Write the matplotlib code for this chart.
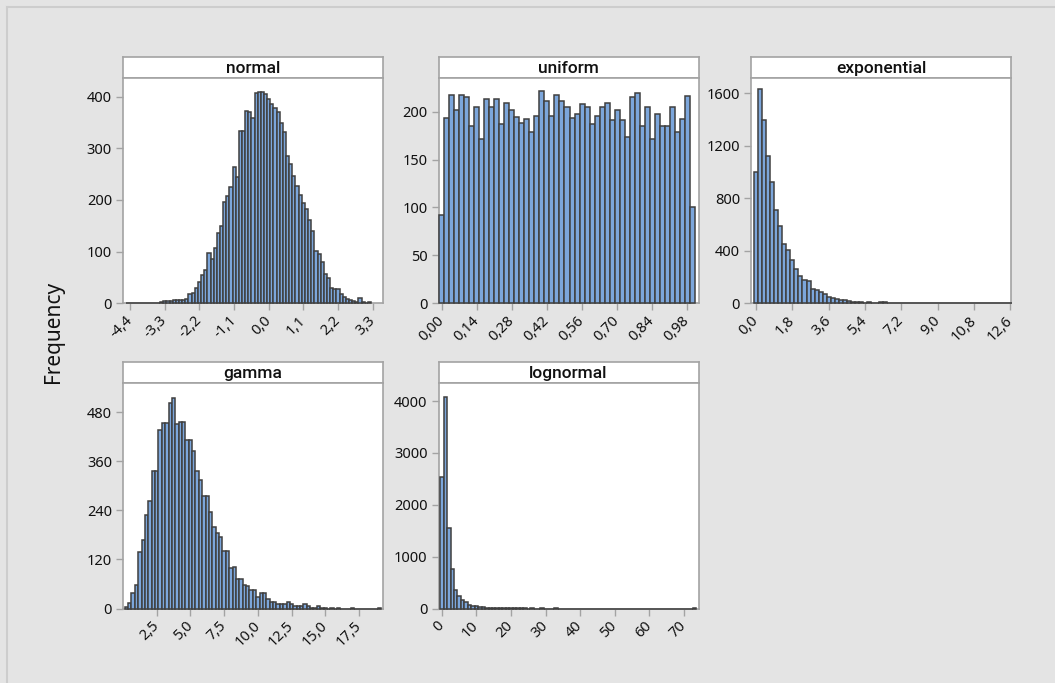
import matplotlib
matplotlib.use("Agg")
import matplotlib.pyplot as plt
from matplotlib.lines import Line2D
import numpy as np

plt.rcParams['font.family'] = ['Noto Sans', 'DejaVu Sans']

W, H = 1055, 683

# ---- data (bin start, bin width, counts per bin) ----
normal_start, normal_width = -4.5, 0.1
normal_counts = [1, 0, 0, 0, 0, 0, 0, 0, 0, 0, 0,
                 3, 4, 5, 5, 6, 7, 7, 7, 8, 18, 20, 30, 42, 54, 65, 97, 85,
                 107, 137, 149, 197, 208, 225, 263, 244, 333, 333, 373, 370,
                 359, 408, 410, 410, 405, 395, 386, 379, 370, 350, 331, 286,
                 270, 247, 227, 210, 195, 182, 161, 140, 101, 95, 79, 56, 48,
                 30, 27, 27, 17, 12, 8, 6, 4, 3, 11, 3, 1, 3]

uniform_start, uniform_width = 0.0, 0.02
uniform_counts = [92, 194, 218, 202, 218, 215, 185, 205, 172, 213, 205, 213,
                  187, 209, 202, 195, 188, 192, 179, 196, 222, 211, 196, 218,
                  211, 205, 194, 198, 208, 205, 187, 196, 205, 209, 191, 202,
                  191, 174, 215, 220, 185, 205, 172, 198, 185, 185, 205, 179,
                  192, 216, 101]

expo_start, expo_width = 0.0, 0.2
expo_counts = [1000, 1632, 1401, 1125, 921, 711, 588, 450, 409, 327, 261, 210,
               179, 169, 110, 102, 84, 72, 51, 38, 31, 28, 26, 15, 10, 6, 12,
               4, 12, 3, 2, 10, 9, 1, 0, 0, 1, 0, 0, 0, 1, 0, 0, 0, 0, 0, 0,
               0, 0, 0, 0, 0, 0, 0, 0, 0, 0, 0, 0, 0, 0, 0, 0, 1]

gamma_start, gamma_width = 0.25, 0.25
gamma_counts = [4, 14, 39, 57, 137, 167, 228, 262, 335, 335, 437, 453, 453,
                502, 514, 452, 456, 456, 411, 411, 384, 335, 313, 275, 275,
                236, 198, 185, 175, 141, 141, 98, 102, 72, 72, 57, 55, 46, 46,
                28, 37, 37, 22, 16, 16, 12, 12, 12, 15, 10, 7, 7, 7, 10, 6, 2,
                2, 5, 2, 1, 0, 1, 0, 1, 0, 0, 0, 1, 0, 0, 0, 0, 0, 0, 0, 1]

lognormal_start, lognormal_width = 0.0, 1.0
lognormal_counts = [2530, 4070, 1560, 770, 366, 238, 160, 116, 64, 51, 45, 38,
                    22, 18, 12, 9, 8, 5, 4, 3, 3, 2, 2, 1, 1, 0, 1, 0, 0, 1,
                    0, 0, 0, 1, 0, 0, 0, 0, 0, 0, 0, 0, 0, 0, 0, 0, 0, 0, 0,
                    0, 0, 0, 0, 0, 0, 0, 0, 0, 0, 0, 0, 0, 0, 0, 0, 0, 0, 0,
                    0, 0, 0, 0, 0, 1]

panel_titles = ["normal", "uniform", "exponential", "gamma", "lognormal"]

normal_xticks = [-4.4, -3.3, -2.2, -1.1, 0.0, 1.1, 2.2, 3.3]
normal_xlabels = ["-4,4", "-3,3", "-2,2", "-1,1", "0,0", "1,1", "2,2", "3,3"]
uniform_xticks = [0.0, 0.14, 0.28, 0.42, 0.56, 0.70, 0.84, 0.98]
uniform_xlabels = ["0,00", "0,14", "0,28", "0,42", "0,56", "0,70", "0,84", "0,98"]
expo_xticks = [0.0, 1.8, 3.6, 5.4, 7.2, 9.0, 10.8, 12.6]
expo_xlabels = ["0,0", "1,8", "3,6", "5,4", "7,2", "9,0", "10,8", "12,6"]
gamma_xticks = [2.5, 5.0, 7.5, 10.0, 12.5, 15.0, 17.5]
gamma_xlabels = ["2,5", "5,0", "7,5", "10,0", "12,5", "15,0", "17,5"]
lognormal_xticks = [0, 10, 20, 30, 40, 50, 60, 70]
lognormal_xlabels = ["0", "10", "20", "30", "40", "50", "60", "70"]

normal_yticks = [0, 100, 200, 300, 400]
uniform_yticks = [0, 50, 100, 150, 200]
expo_yticks = [0, 400, 800, 1200, 1600]
gamma_yticks = [0, 120, 240, 360, 480]
lognormal_yticks = [0, 1000, 2000, 3000, 4000]

# ---- style ----
bg = '#e4e4e4'
fill = '#7ca6db'
edge = '#3f3f3f'
spine_c = '#a3a3a3'

fig = plt.figure(figsize=(W / 100, H / 100), dpi=100, facecolor=bg)

# outer frame (top and left visible)
fig.add_artist(Line2D([7 / W, 1], [1 - 7 / H, 1 - 7 / H], color='#cdcdcd', lw=1.5))
fig.add_artist(Line2D([7 / W, 7 / W], [0, 1 - 7 / H], color='#cdcdcd', lw=1.5))


def px_axes(x0, y_top, w, h):
    return fig.add_axes([x0 / W, 1 - (y_top + h) / H, w / W, h / H])


def panel(col_x, plot_top, plot_h, title, start, width, counts,
          xlim, ylim, xticks, xlabels, yticks):
    strip = px_axes(col_x, plot_top - 21, 260, 21)
    strip.set_facecolor('white')
    strip.set_xticks([])
    strip.set_yticks([])
    for s in strip.spines.values():
        s.set_color(spine_c)
        s.set_linewidth(1.2)
    strip.text(0.5, 0.45, title, ha='center', va='center', fontsize=12.5,
               family=['Roboto', 'DejaVu Sans'], fontweight='medium',
               color='#111111', transform=strip.transAxes)

    ax = px_axes(col_x, plot_top, 260, plot_h)
    ax.set_facecolor('white')
    centers = start + width * np.arange(len(counts))
    bars = ax.bar(centers, counts, width=width, color=fill, edgecolor=edge,
                  linewidth=1.1, align='center', zorder=3)
    for b in bars:
        b.set_clip_on(False)
    ax.set_xlim(*xlim)
    ax.set_ylim(*ylim)
    ax.set_xticks(xticks)
    ax.set_xticklabels(xlabels, rotation=45, ha='right', va='center',
                       rotation_mode='anchor')
    ax.set_yticks(yticks)
    ax.set_yticklabels([str(v) for v in yticks])
    ax.tick_params(axis='both', direction='out', length=5, width=1,
                   color=spine_c, labelsize=10.5, labelcolor='#111111', pad=3)
    ax.tick_params(axis='x', pad=6)
    for s in ax.spines.values():
        s.set_color(spine_c)
        s.set_linewidth(1.2)
    return ax


cols = [123, 438.5, 751]
row1_top, row2_top = 77.7, 383
row_h = 225.5

panel(cols[0], row1_top, row_h, panel_titles[0], normal_start, normal_width,
      normal_counts, (-4.63, 3.63), (0, 437), normal_xticks, normal_xlabels,
      normal_yticks)
panel(cols[1], row1_top, row_h, panel_titles[1], uniform_start, uniform_width,
      uniform_counts, (-0.013, 1.025), (0, 235.6), uniform_xticks,
      uniform_xlabels, uniform_yticks)
panel(cols[2], row1_top, row_h, panel_titles[2], expo_start, expo_width,
      expo_counts, (-0.25, 12.63), (0, 1720), expo_xticks, expo_xlabels,
      expo_yticks)
panel(cols[0], row2_top, row_h, panel_titles[3], gamma_start, gamma_width,
      gamma_counts, (0, 19.28), (0, 551), gamma_xticks, gamma_xlabels,
      gamma_yticks)
panel(cols[1], row2_top, row_h, panel_titles[4], lognormal_start,
      lognormal_width, lognormal_counts, (-0.98, 74.2), (0, 4347),
      lognormal_xticks, lognormal_xlabels, lognormal_yticks)

fig.text(53 / W, 1 - 332 / H, "Frequency", rotation=90, ha='center',
         va='center', fontsize=15, color='#111111')

fig.savefig("out.png", dpi=100, facecolor=bg)
